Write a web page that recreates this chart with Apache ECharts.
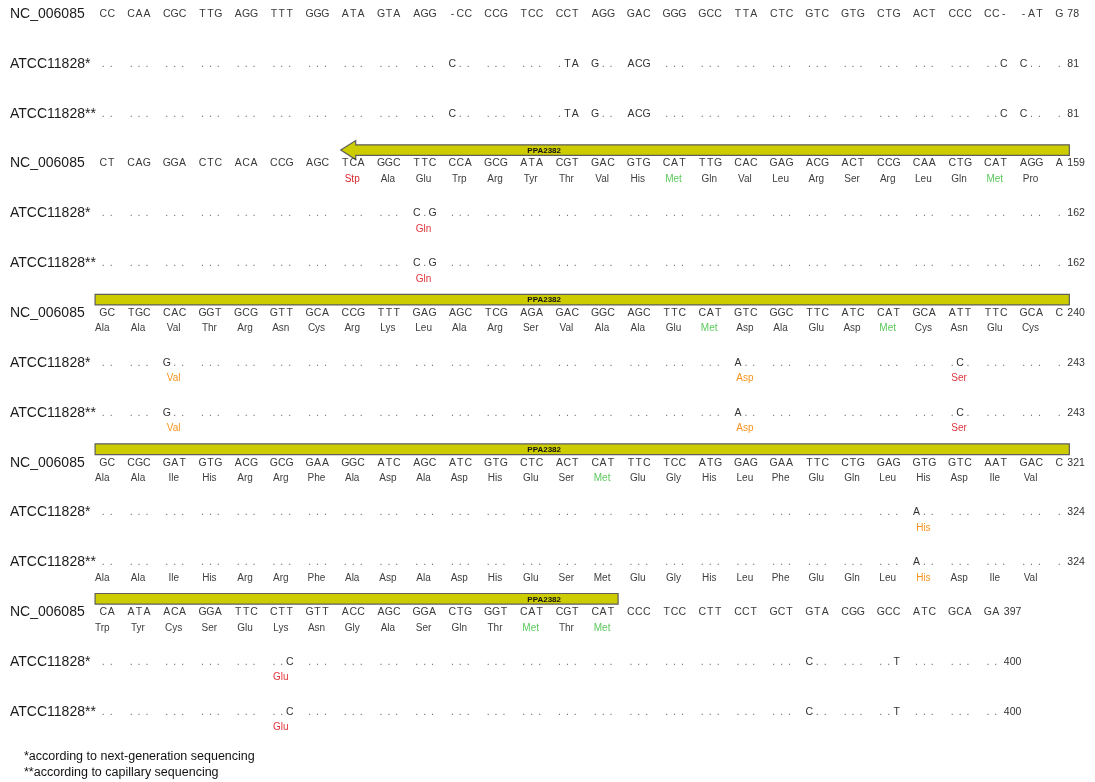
<!DOCTYPE html>
<html>
<head>
<meta charset="utf-8">
<script src="https://cdn.jsdelivr.net/npm/echarts@6.0.0/dist/echarts.min.js"></script>
<style>
html,body{margin:0;padding:0;background:#fff;}
#chart{width:1095px;height:782px;}
</style>
</head>
<body>
<div id="chart"></div>
<script>
// ---------------- DATA ----------------
const rowNames = [
  "NC_006085", "ATCC11828*", "ATCC11828**",
  "NC_006085", "ATCC11828*", "ATCC11828**",
  "NC_006085", "ATCC11828*", "ATCC11828**",
  "NC_006085", "ATCC11828*", "ATCC11828**",
  "NC_006085", "ATCC11828*", "ATCC11828**"
];

// codon columns separated by spaces (col 0 = leading partial codon)
const sequences = [
  "CC CAA CGC TTG AGG TTT GGG ATA GTA AGG -CC CCG TCC CCT AGG GAC GGG GCC TTA CTC GTC GTG CTG ACT CCC CC- -AT G",
  ".. ... ... ... ... ... ... ... ... ... C.. ... ... .TA G.. ACG ... ... ... ... ... ... ... ... ... ..C C.. .",
  ".. ... ... ... ... ... ... ... ... ... C.. ... ... .TA G.. ACG ... ... ... ... ... ... ... ... ... ..C C.. .",
  "CT CAG GGA CTC ACA CCG AGC TCA GGC TTC CCA GCG ATA CGT GAC GTG CAT TTG CAC GAG ACG ACT CCG CAA CTG CAT AGG A",
  ".. ... ... ... ... ... ... ... ... C.G ... ... ... ... ... ... ... ... ... ... ... ... ... ... ... ... ... .",
  ".. ... ... ... ... ... ... ... ... C.G ... ... ... ... ... ... ... ... ... ... ... ... ... ... ... ... ... .",
  "GC TGC CAC GGT GCG GTT GCA CCG TTT GAG AGC TCG AGA GAC GGC AGC TTC CAT GTC GGC TTC ATC CAT GCA ATT TTC GCA C",
  ".. ... G.. ... ... ... ... ... ... ... ... ... ... ... ... ... ... ... A.. ... ... ... ... ... .C. ... ... .",
  ".. ... G.. ... ... ... ... ... ... ... ... ... ... ... ... ... ... ... A.. ... ... ... ... ... .C. ... ... .",
  "GC CGC GAT GTG ACG GCG GAA GGC ATC AGC ATC GTG CTC ACT CAT TTC TCC ATG GAG GAA TTC CTG GAG GTG GTC AAT GAC C",
  ".. ... ... ... ... ... ... ... ... ... ... ... ... ... ... ... ... ... ... ... ... ... ... A.. ... ... ... .",
  ".. ... ... ... ... ... ... ... ... ... ... ... ... ... ... ... ... ... ... ... ... ... ... A.. ... ... ... .",
  "CA ATA ACA GGA TTC CTT GTT ACC AGC GGA CTG GGT CAT CGT CAT CCC TCC CTT CCT GCT GTA CGG GCC ATC GCA GA",
  ".. ... ... ... ... ..C ... ... ... ... ... ... ... ... ... ... ... ... ... ... C.. ... ..T ... ... ..",
  ".. ... ... ... ... ..C ... ... ... ... ... ... ... ... ... ... ... ... ... ... C.. ... ..T ... ... .."
];

const endNumbers = [78, 81, 81, 159, 162, 162, 240, 243, 243, 321, 324, 324, 397, 400, 400];

// translated amino acids
const aminoRow4  = ["Stp","Ala","Glu","Trp","Arg","Tyr","Thr","Val","His","Met","Gln","Val","Leu","Arg","Ser","Arg","Leu","Gln","Met","Pro"];
const aminoRow7  = ["Ala","Ala","Val","Thr","Arg","Asn","Cys","Arg","Lys","Leu","Ala","Arg","Ser","Val","Ala","Ala","Glu","Met","Asp","Ala","Glu","Asp","Met","Cys","Asn","Glu","Cys"];
const aminoRow10 = ["Ala","Ala","Ile","His","Arg","Arg","Phe","Ala","Asp","Ala","Asp","His","Glu","Ser","Met","Glu","Gly","His","Leu","Phe","Glu","Gln","Leu","His","Asp","Ile","Val"];
const aminoRow12 = ["Ala","Ala","Ile","His","Arg","Arg","Phe","Ala","Asp","Ala","Asp","His","Glu","Ser","Met","Glu","Gly","His","Leu","Phe","Glu","Gln","Leu","His","Asp","Ile","Val"];
const aminoRow13 = ["Trp","Tyr","Cys","Ser","Glu","Lys","Asn","Gly","Ala","Ser","Gln","Thr","Met","Thr","Met"];
const aminoTracks = [
  {row: 3,  start: 7, ref: true,  residues: aminoRow4},
  {row: 6,  start: 0, ref: true,  residues: aminoRow7},
  {row: 9,  start: 0, ref: true,  residues: aminoRow10},
  {row: 11, start: 0, ref: false, residues: aminoRow12},
  {row: 12, start: 0, ref: true,  residues: aminoRow13}
];

// amino-acid changes in the sequenced strains: row, column, residue, class
const aminoChanges = [
  [4, 9, "Gln", "red"], [5, 9, "Gln", "red"],
  [7, 2, "Val", "orange"], [7, 18, "Asp", "orange"], [7, 24, "Ser", "red"],
  [8, 2, "Val", "orange"], [8, 18, "Asp", "orange"], [8, 24, "Ser", "red"],
  [10, 23, "His", "orange"], [11, 23, "His", "orange"],
  [13, 5, "Glu", "red"], [14, 5, "Glu", "red"]
];

// gene annotation tracks: row, start column, end column, arrow (1 = points left)
const geneTracks = [
  [3, 6.65, 27.06, 1],
  [6, -0.23, 27.06, 0],
  [9, -0.23, 27.06, 0],
  [12, -0.23, 14.42, 0]
];
const geneName = "PPA2382";
const geneLabelCol = 12.35;

const footnotes = ["*according to next-generation sequencing", "**according to capillary sequencing"];

// ---------------- LAYOUT / STYLE ----------------
const W = 1095, H = 782;
const COL0 = 103.3, COLP = 35.7, ROW0 = 14, ROWP = 49.86;
const BASE_PX = 7.9;
const BP = BASE_PX / COLP;
const FONT = "'Liberation Sans', Arial, sans-serif";
const NAME_FONT = "14px 'Liberation Sans', Arial, sans-serif";
const SEQ_FONT = "10.5px " + FONT;
const AA_FONT = "10px " + FONT;
const COLORS = {
  name: "#1a1a1a", seq: "#3a3a3a", dot: "#707070", mut: "#333333",
  aa: "#404040", met: "#5cc85c", stp: "#d9262e", red: "#e0353d", orange: "#f7931e",
  num: "#333333", bar: "#cccc00", barEdge: "#5e5e5e"
};

const texts = [];
sequences.forEach((s, r) => {
  const toks = s.split(" ");
  const last = toks.length - 1;
  toks.forEach((t, c) => {
    for (let i = 0; i < t.length; i++) {
      let off;
      if (t.length === 3) off = i - 1;
      else if (c === 0) off = (3 - t.length) + i - 1;
      else off = i - 1;
      const ch = t[i];
      const isRef = rowNames[r].indexOf("NC") === 0;
      texts.push({x: c + off * BP, row: r, text: ch, font: SEQ_FONT,
        fill: ch === "." ? COLORS.dot : (isRef ? COLORS.seq : COLORS.mut)});
    }
  });
  const lt = toks[last];
  const lastOff = lt.length - 2;
  texts.push({x: last + lastOff * BP, row: r, text: String(endNumbers[r]), font: SEQ_FONT,
    fill: COLORS.num, align: "left", dx: 8});
  texts.push({x: -COL0 / COLP, row: r, text: rowNames[r], font: NAME_FONT, fill: COLORS.name, align: "left", dx: 10, dy: 0});
});
aminoTracks.forEach(tr => {
  tr.residues.forEach((aa, k) => {
    let fill = COLORS.aa;
    if (tr.ref && aa === "Met") fill = COLORS.met;
    if (tr.ref && aa === "Stp") fill = COLORS.stp;
    const chg = aminoChanges.find(a => a[0] === tr.row && a[1] === tr.start + k);
    if (chg) return;
    texts.push({x: tr.start + k, row: tr.row, text: aa, font: AA_FONT, fill: fill, dy: 15.5, dx: -1});
  });
});
aminoChanges.forEach(a => {
  texts.push({x: a[1], row: a[0], text: a[2], font: AA_FONT, fill: COLORS[a[3]], dy: 15.5, dx: -1});
});

const option = {
  animation: false,
  title: {
    text: footnotes.join("\n"), left: 19, top: 744,
    textStyle: {fontFamily: FONT, fontSize: 12.5, fontWeight: "normal", color: "#111", lineHeight: 16}
  },
  grid: {left: 0, right: 0, top: 0, bottom: 0, containLabel: false},
  xAxis: {type: "value", min: -COL0 / COLP, max: (W - COL0) / COLP, show: false},
  yAxis: {type: "value", inverse: true, min: -ROW0 / ROWP, max: (H - ROW0) / ROWP, show: false},
  series: [
    {
      type: "custom", silent: true, clip: false,
      data: geneTracks.map(g => g),
      renderItem: (params, api) => {
        const g = geneTracks[params.dataIndex];
        const p1 = api.coord([g[1], g[0]]);
        const p2 = api.coord([g[2], g[0]]);
        const pl = api.coord([geneLabelCol, g[0]]);
        const yc = p1[1] - 13.5, hh = 5.3;
        const x1 = p1[0], x2 = p2[0];
        let shape;
        if (g[3] === 1) {
          const hl = 15, ah = 9.5;
          shape = {type: "polygon", shape: {points: [
            [x1, yc], [x1 + hl, yc - ah], [x1 + hl, yc - hh], [x2, yc - hh],
            [x2, yc + hh], [x1 + hl, yc + hh], [x1 + hl, yc + ah]
          ]}, style: {fill: COLORS.bar, stroke: COLORS.barEdge, lineWidth: 1.2}};
        } else {
          shape = {type: "rect", shape: {x: x1, y: yc - hh, width: x2 - x1, height: 2 * hh},
            style: {fill: COLORS.bar, stroke: COLORS.barEdge, lineWidth: 1.2}};
        }
        return {type: "group", children: [shape, {
          type: "text", x: pl[0], y: yc + 0.5,
          style: {text: geneName, font: "bold 8px " + FONT, fill: "#111", align: "center", verticalAlign: "middle"}
        }]};
      }
    },
    {
      type: "custom", silent: true, clip: false,
      data: texts.map(t => [t.x, t.row]),
      renderItem: (params, api) => {
        const t = texts[params.dataIndex];
        const p = api.coord([t.x, t.row]);
        return {type: "text", x: p[0] + (t.dx || 0), y: p[1] + (t.dy || 0),
          style: {text: t.text, font: t.font, fill: t.fill, align: t.align || "center", verticalAlign: "middle"}};
      }
    }
  ]
};
const chart = echarts.init(document.getElementById("chart"), null, {renderer: "canvas"});
chart.setOption(option);
</script>
</body>
</html>
